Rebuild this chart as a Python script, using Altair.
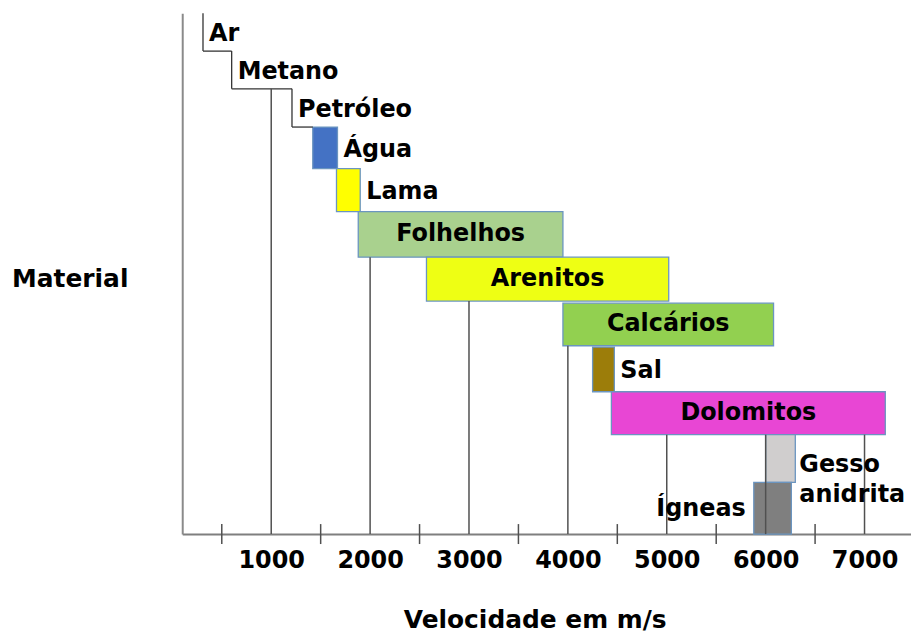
import altair as alt
import pandas as pd

# ---- data ----
materials = ["Ar", "Metano", "Petróleo", "Água", "Lama", "Folhelhos", "Arenitos",
             "Calcários", "Sal", "Dolomitos", "Gesso\nanidrita", "Ígneas"]
v_min = [310, 600, 1210, 1420, 1660, 1880, 2570, 3950, 4250, 4440, 6000, 5880]
v_max = [600, 1210, 1420, 1670, 1900, 3950, 5020, 6080, 4470, 7210, 6300, 6260]
row_top = [12.0, 11.13, 10.26, 9.38, 8.42, 7.43, 6.38, 5.32, 4.31, 3.28, 2.29, 1.19]
row_bottom = [11.13, 10.26, 9.38, 8.42, 7.43, 6.38, 5.37, 4.34, 3.28, 2.29, 1.19, 0.0]
kind = ["step", "step", "step", "box", "box", "box", "box", "box", "box", "box", "box", "box"]
fill_colors = ["none", "none", "none", "#4472C4", "#FFFF00", "#A9D18E", "#EEFF14",
               "#92D050", "#9C7D0A", "#E846D4", "#D0CECE", "#7F7F7F"]
label_place = ["step", "step", "step", "right", "right", "inside", "inside", "inside",
               "right", "inside", "right", "left"]

grid_values = [1000, 2000, 3000, 4000, 5000, 6000, 7000]
grid_top = [10.26, 6.38, 5.37, 4.34, 2.29, 2.29, 2.29]
minor_ticks = [500, 1500, 2500, 3500, 4500, 5500, 6500, 7500]

FONT = "DejaVu Sans"

df = pd.DataFrame({
    "material": materials, "vmin": v_min, "vmax": v_max,
    "top": row_top, "bottom": row_bottom, "kind": kind,
    "fill": fill_colors, "place": label_place,
})
df["mid"] = (df["top"] + df["bottom"]) / 2
df["anchor"] = df.apply(
    lambda r: (r.vmin + r.vmax) / 2 if r.place == "inside"
    else (r.vmax if r.place == "right" else r.vmin), axis=1)

grid_df = pd.DataFrame({"v": grid_values, "top": grid_top, "bottom": [0] * len(grid_values)})
minor_df = pd.DataFrame({"v": minor_ticks})

xscale = alt.Scale(domain=[100, 7470], nice=False, zero=False)
yscale = alt.Scale(domain=[0, 12], nice=False, zero=False)

xaxis = alt.Axis(values=grid_values, format="d", ticks=False, grid=False, labelFont=FONT,
                 labelFontSize=24, labelFontWeight="bold", labelColor="black",
                 labelPadding=15, labelBaseline="top",
                 domainColor="#7f7f7f", domainWidth=2,
                 title="Velocidade em m/s", titleFont=FONT, titleFontSize=25,
                 titleFontWeight="bold", titleColor="black",
                 titleX=354, titleY=86, titleBaseline="middle", titleAlign="center")
yaxis = alt.Axis(ticks=False, labels=False, grid=False,
                 domainColor="#8a8a8a", domainWidth=2,
                 title="Material", titleFont=FONT, titleFontSize=25,
                 titleFontWeight="bold", titleColor="black", titleAngle=0,
                 titleX=-113, titleY=266, titleAlign="center", titleBaseline="middle")


def X(field):
    return alt.X(field, type="quantitative", scale=xscale, axis=xaxis)


def Y(field):
    return alt.Y(field, type="quantitative", scale=yscale, axis=yaxis)


base = alt.Chart(df)

boxes = base.transform_filter(alt.datum.kind == "box").mark_rect(
    stroke="#6B95C0", strokeWidth=1.3
).encode(x=X("vmin"), x2="vmax", y=Y("top"), y2="bottom",
         fill=alt.Fill("fill:N", scale=None))

step_v = base.transform_filter(alt.datum.kind == "step").mark_rule(
    color="#333333", strokeWidth=1.3
).encode(x=X("vmin"), y=Y("top"), y2="bottom")

step_h = base.transform_filter(alt.datum.kind == "step").mark_rule(
    color="#333333", strokeWidth=1.3
).encode(x=X("vmin"), x2="vmax", y=Y("bottom"))

grid = alt.Chart(grid_df).mark_rule(color="#505050", strokeWidth=1.5).encode(
    x=X("v"), y=Y("top"), y2="bottom")

minor = alt.Chart(minor_df).transform_calculate(lo="-0.23", hi="0.23").mark_rule(
    color="#505050", strokeWidth=1.5
).encode(x=X("v"), y=Y("lo:Q"), y2="hi:Q")

txt_common = dict(font=FONT, fontSize=24, fontWeight="bold", color="black",
                  baseline="middle", lineBreak="\n", lineHeight=31)

inside_txt = base.transform_filter(alt.datum.place == "inside").mark_text(
    align="center", dy=0, **txt_common
).encode(x=X("anchor"), y=Y("mid"), text="material:N")

right_txt = base.transform_filter(
    (alt.datum.place == "right") | (alt.datum.place == "step")
).transform_filter(alt.datum.material != "Gesso\nanidrita").mark_text(
    align="left", dx=6, dy=2, **txt_common
).encode(x=X("anchor"), y=Y("mid"), text="material:N")

gesso_txt = base.transform_filter(alt.datum.material == "Gesso\nanidrita").mark_text(
    align="left", dx=4, dy=6, **txt_common
).encode(x=X("anchor"), y=Y("mid"), text="material:N")

left_txt = base.transform_filter(alt.datum.place == "left").mark_text(
    align="right", dx=-8, dy=1, **txt_common
).encode(x=X("anchor"), y=Y("mid"), text="material:N")

chart = alt.layer(
    boxes, step_v, step_h, grid, minor, inside_txt, right_txt, gesso_txt, left_txt
).properties(
    width=732, height=523,
    autosize=alt.AutoSizeParams(type="none"),
    padding={"left": 175, "top": 4, "right": 0, "bottom": 100},
    background="white",
).configure_view(stroke=None)

chart.save("out.html", embed_options={"renderer": "svg", "actions": False})
